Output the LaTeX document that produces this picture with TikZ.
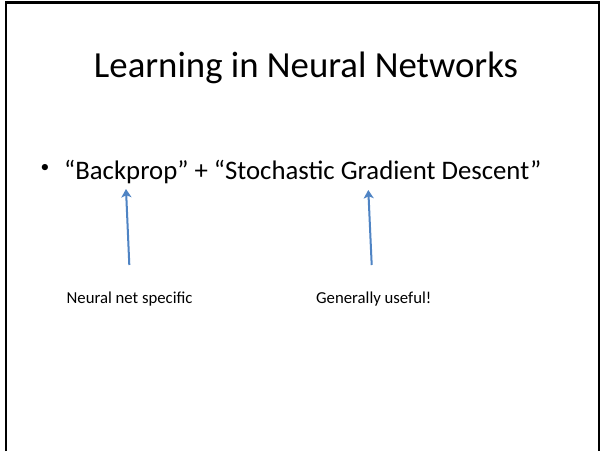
\documentclass[tikz,border=0pt]{standalone}
\usepackage{fontspec}
\setmainfont{Carlito}
\usetikzlibrary{arrows.meta}
\definecolor{arrowblue}{HTML}{4F84C4}
\tikzset{
  titletext/.style={font=\fontsize{44pt}{48pt}\selectfont, anchor=base, inner sep=0pt},
  bodytext/.style={font=\fontsize{32pt}{36pt}\selectfont, anchor=base west, inner sep=0pt},
  dottext/.style={font=\fontsize{21pt}{24pt}\selectfont, anchor=base, inner sep=0pt},
  notetext/.style={font=\fontsize{20pt}{24pt}\selectfont, anchor=base west, inner sep=0pt},
  pointer/.style={draw=arrowblue, line width=2.4pt, -{Stealth[length=10pt,width=12pt,inset=2.5pt]}},
  frameline/.style={draw=black, line width=2.4pt}
}
\begin{document}
\begin{tikzpicture}[x=1.196pt, y=-1.196pt]
  \useasboundingbox (0,0) rectangle (602,451);
  \fill[white] (0,0) rectangle (602,451);
  % slide frame: left, top and right edges
  \draw[frameline] (6,451) -- (6,2.5) -- (599,2.5) -- (599,451);

  \node[titletext] (title) at (306,77) {Learning in Neural Networks};
  \node[dottext] (dot) at (45,172.5) {•};
  \node[bodytext] (body) at (64,179) {“Backprop” + “Stochastic Gradient Descent”};

  \node[notetext] (left) at (66.5,303) {Neural net specific};
  \node[notetext] (right) at (316,303) {Generally useful!};

  \coordinate (ltail) at (129.3,265);
  \coordinate (lhead) at (126,189);
  \coordinate (rtail) at (371.7,265);
  \coordinate (rhead) at (368.3,190);
  \draw[pointer] (ltail) -- (lhead);
  \draw[pointer] (rtail) -- (rhead);
\end{tikzpicture}
\end{document}
